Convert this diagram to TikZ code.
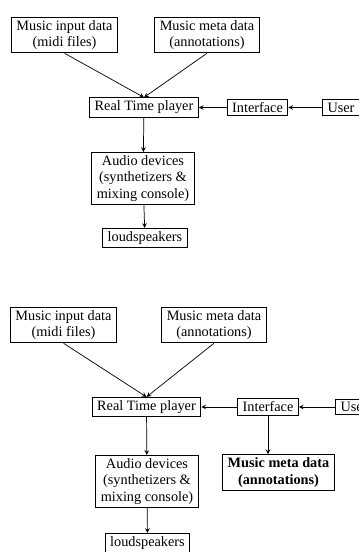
\documentclass[tikz,border=0pt]{standalone}
\usepackage{fontspec}
\setmainfont{Liberation Serif}
\usepackage{tikz}

\begin{document}
\begin{tikzpicture}[x=0.7pt,y=-0.7pt,>=stealth,
  blk/.style={draw,line width=0.6pt,align=center,inner xsep=3.5pt,inner ysep=2.2pt,font=\fontsize{10pt}{11.5pt}\selectfont},
  conn/.style={->,line width=0.5pt}]
\useasboundingbox (0,0) rectangle (358,552);

% first version
\node at (64.5,35) [blk] (midi) {Music input data\\(midi files)};
\node at (207,35) [blk] (meta) {Music meta data\\(annotations)};
\node at (144,107.5) [blk] (player) {Real Time player};
\node at (257.5,107.5) [blk] (iface) {Interface};
\node at (341,107.5) [blk] (user) {User};
\node at (143,178.5) [blk] (audio) {Audio devices\\(synthetizers \&\\mixing console)};
\node at (145,238) [blk] (speakers) {loudspeakers};
\draw[conn] (midi.south) -- (player.north);
\draw[conn] (meta.south) -- (player.north);
\draw[conn] (user) -- (iface);
\draw[conn] (iface) -- (player);
\draw[conn] (player) -- (audio);
\draw[conn] (audio) -- (speakers);

% second version
\node at (63.5,325) [blk] (midi2) {Music input data\\(midi files)};
\node at (214,325) [blk] (meta2) {Music meta data\\(annotations)};
\node at (146.5,407) [blk] (player2) {Real Time player};
\node at (268,407) [blk] (iface2) {Interface};
\node at (354,407) [blk] (user2) {User};
\node at (147,481.5) [blk] (audio2) {Audio devices\\(synthetizers \&\\mixing console)};
\node at (147.5,543) [blk] (speakers2) {loudspeakers};
\node at (278.5,472.5) [blk] (annot2) {\textbf{Music meta data}\\\textbf{(annotations)}};
\draw[conn] (midi2.south) -- (player2.north);
\draw[conn] (meta2.south) -- (player2.north);
\draw[conn] (user2) -- (iface2);
\draw[conn] (iface2) -- (player2);
\draw[conn] (player2) -- (audio2);
\draw[conn] (audio2) -- (speakers2);
\draw[conn] (iface2.south) -- (iface2.south |- annot2.north);
\end{tikzpicture}
\end{document}
